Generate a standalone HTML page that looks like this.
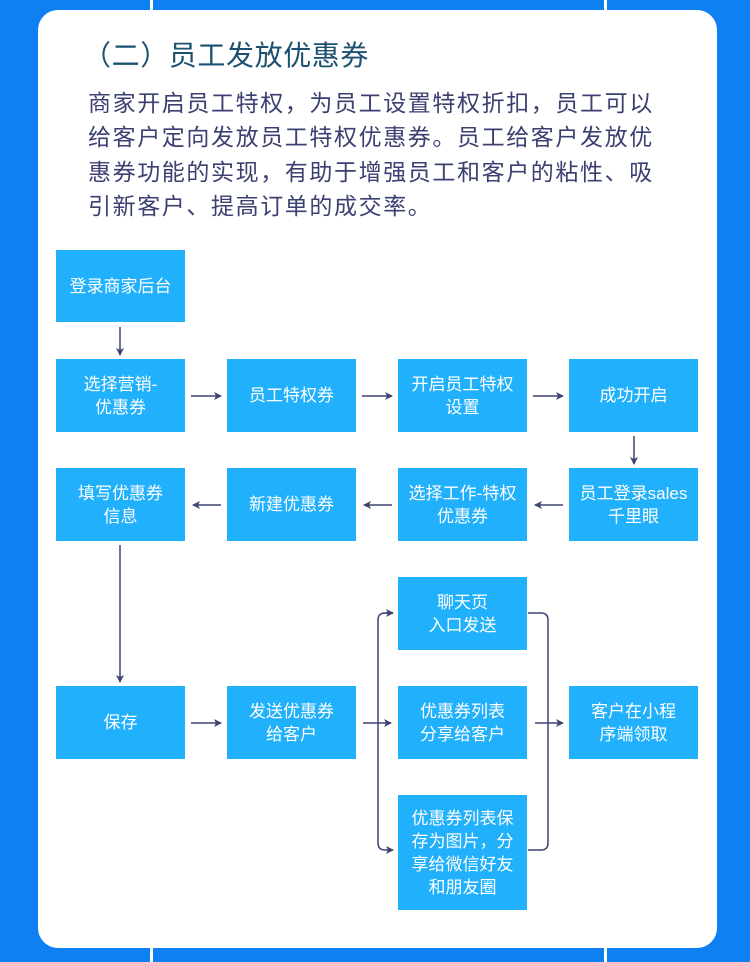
<!DOCTYPE html>
<html><head><meta charset="utf-8"><style>
body{margin:0;width:750px;height:962px;background:#0f80f2;position:relative;overflow:hidden;font-family:"Liberation Sans","Noto Sans CJK SC",sans-serif}
.vl{position:absolute;width:3px;background:#fff}
.card{position:absolute;left:38px;top:10px;width:679px;height:938px;background:#fff;border-radius:20px}
.t{position:absolute;left:83px;top:34px;font-size:28px;color:#1b5070;letter-spacing:0.6px;white-space:nowrap}
.p{position:absolute;left:88px;top:86px;font-size:23px;letter-spacing:1.6px;line-height:34.3px;color:#3b4070;white-space:nowrap}
.b{position:absolute;width:129px;background:#21b0fb;color:#fff;font-size:17px;line-height:23px;display:flex;align-items:center;justify-content:center;text-align:center}
</style></head><body>
<div class="vl" style="left:150px;top:0;height:962px"></div>
<div class="vl" style="left:604px;top:0;height:962px"></div>
<div class="card"></div>
<div class="t">（二）员工发放优惠券</div>
<div class="p">商家开启员工特权，为员工设置特权折扣，员工可以<br>给客户定向发放员工特权优惠券。员工给客户发放优<br>惠券功能的实现，有助于增强员工和客户的粘性、吸<br>引新客户、提高订单的成交率。</div>

<div class="b" style="left:56px;top:250px;height:72px">登录商家后台</div>
<div class="b" style="left:56px;top:359px;height:73px">选择营销-<br>优惠券</div>
<div class="b" style="left:227px;top:359px;height:73px">员工特权券</div>
<div class="b" style="left:398px;top:359px;height:73px">开启员工特权<br>设置</div>
<div class="b" style="left:569px;top:359px;height:73px">成功开启</div>
<div class="b" style="left:56px;top:468px;height:73px">填写优惠券<br>信息</div>
<div class="b" style="left:227px;top:468px;height:73px">新建优惠券</div>
<div class="b" style="left:398px;top:468px;height:73px">选择工作-特权<br>优惠券</div>
<div class="b" style="left:569px;top:468px;height:73px">员工登录sales<br>千里眼</div>
<div class="b" style="left:56px;top:686px;height:73px">保存</div>
<div class="b" style="left:227px;top:686px;height:73px">发送优惠券<br>给客户</div>
<div class="b" style="left:398px;top:577px;height:73px">聊天页<br>入口发送</div>
<div class="b" style="left:398px;top:686px;height:73px">优惠券列表<br>分享给客户</div>
<div class="b" style="left:398px;top:795px;height:115px">优惠券列表保<br>存为图片，分<br>享给微信好友<br>和朋友圈</div>
<div class="b" style="left:569px;top:686px;height:73px">客户在小程<br>序端领取</div>

<svg width="750" height="962" style="position:absolute;left:0;top:0" fill="none" stroke="#3d4470" stroke-width="1.5">
<defs><marker id="a" markerWidth="8" markerHeight="8" refX="7" refY="4" orient="auto" markerUnits="userSpaceOnUse"><path d="M0,0 L8,4 L0,8 L2,4z" fill="#3d4470" stroke="none"/></marker></defs>
<line x1="120" y1="327" x2="120" y2="355" marker-end="url(#a)"/>
<line x1="191" y1="396" x2="221" y2="396" marker-end="url(#a)"/>
<line x1="362" y1="396" x2="392" y2="396" marker-end="url(#a)"/>
<line x1="533" y1="396" x2="563" y2="396" marker-end="url(#a)"/>
<line x1="634" y1="436" x2="634" y2="464" marker-end="url(#a)"/>
<line x1="563" y1="505" x2="535" y2="505" marker-end="url(#a)"/>
<line x1="392" y1="505" x2="364" y2="505" marker-end="url(#a)"/>
<line x1="221" y1="505" x2="193" y2="505" marker-end="url(#a)"/>
<line x1="120" y1="545" x2="120" y2="682" marker-end="url(#a)"/>
<line x1="191" y1="723" x2="221" y2="723" marker-end="url(#a)"/>
<line x1="363" y1="723" x2="391" y2="723" marker-end="url(#a)"/>
<path d="M393,613 H385 Q378,613 378,620 V843 Q378,850 385,850 H393" marker-end="url(#a)"/>
<path d="M385,613 H393" marker-end="url(#a)"/>
<path d="M528,613 H541 Q548,613 548,620 V843 Q548,850 541,850 H528"/>
<line x1="535" y1="723" x2="563" y2="723" marker-end="url(#a)"/>
</svg>
</body></html>
